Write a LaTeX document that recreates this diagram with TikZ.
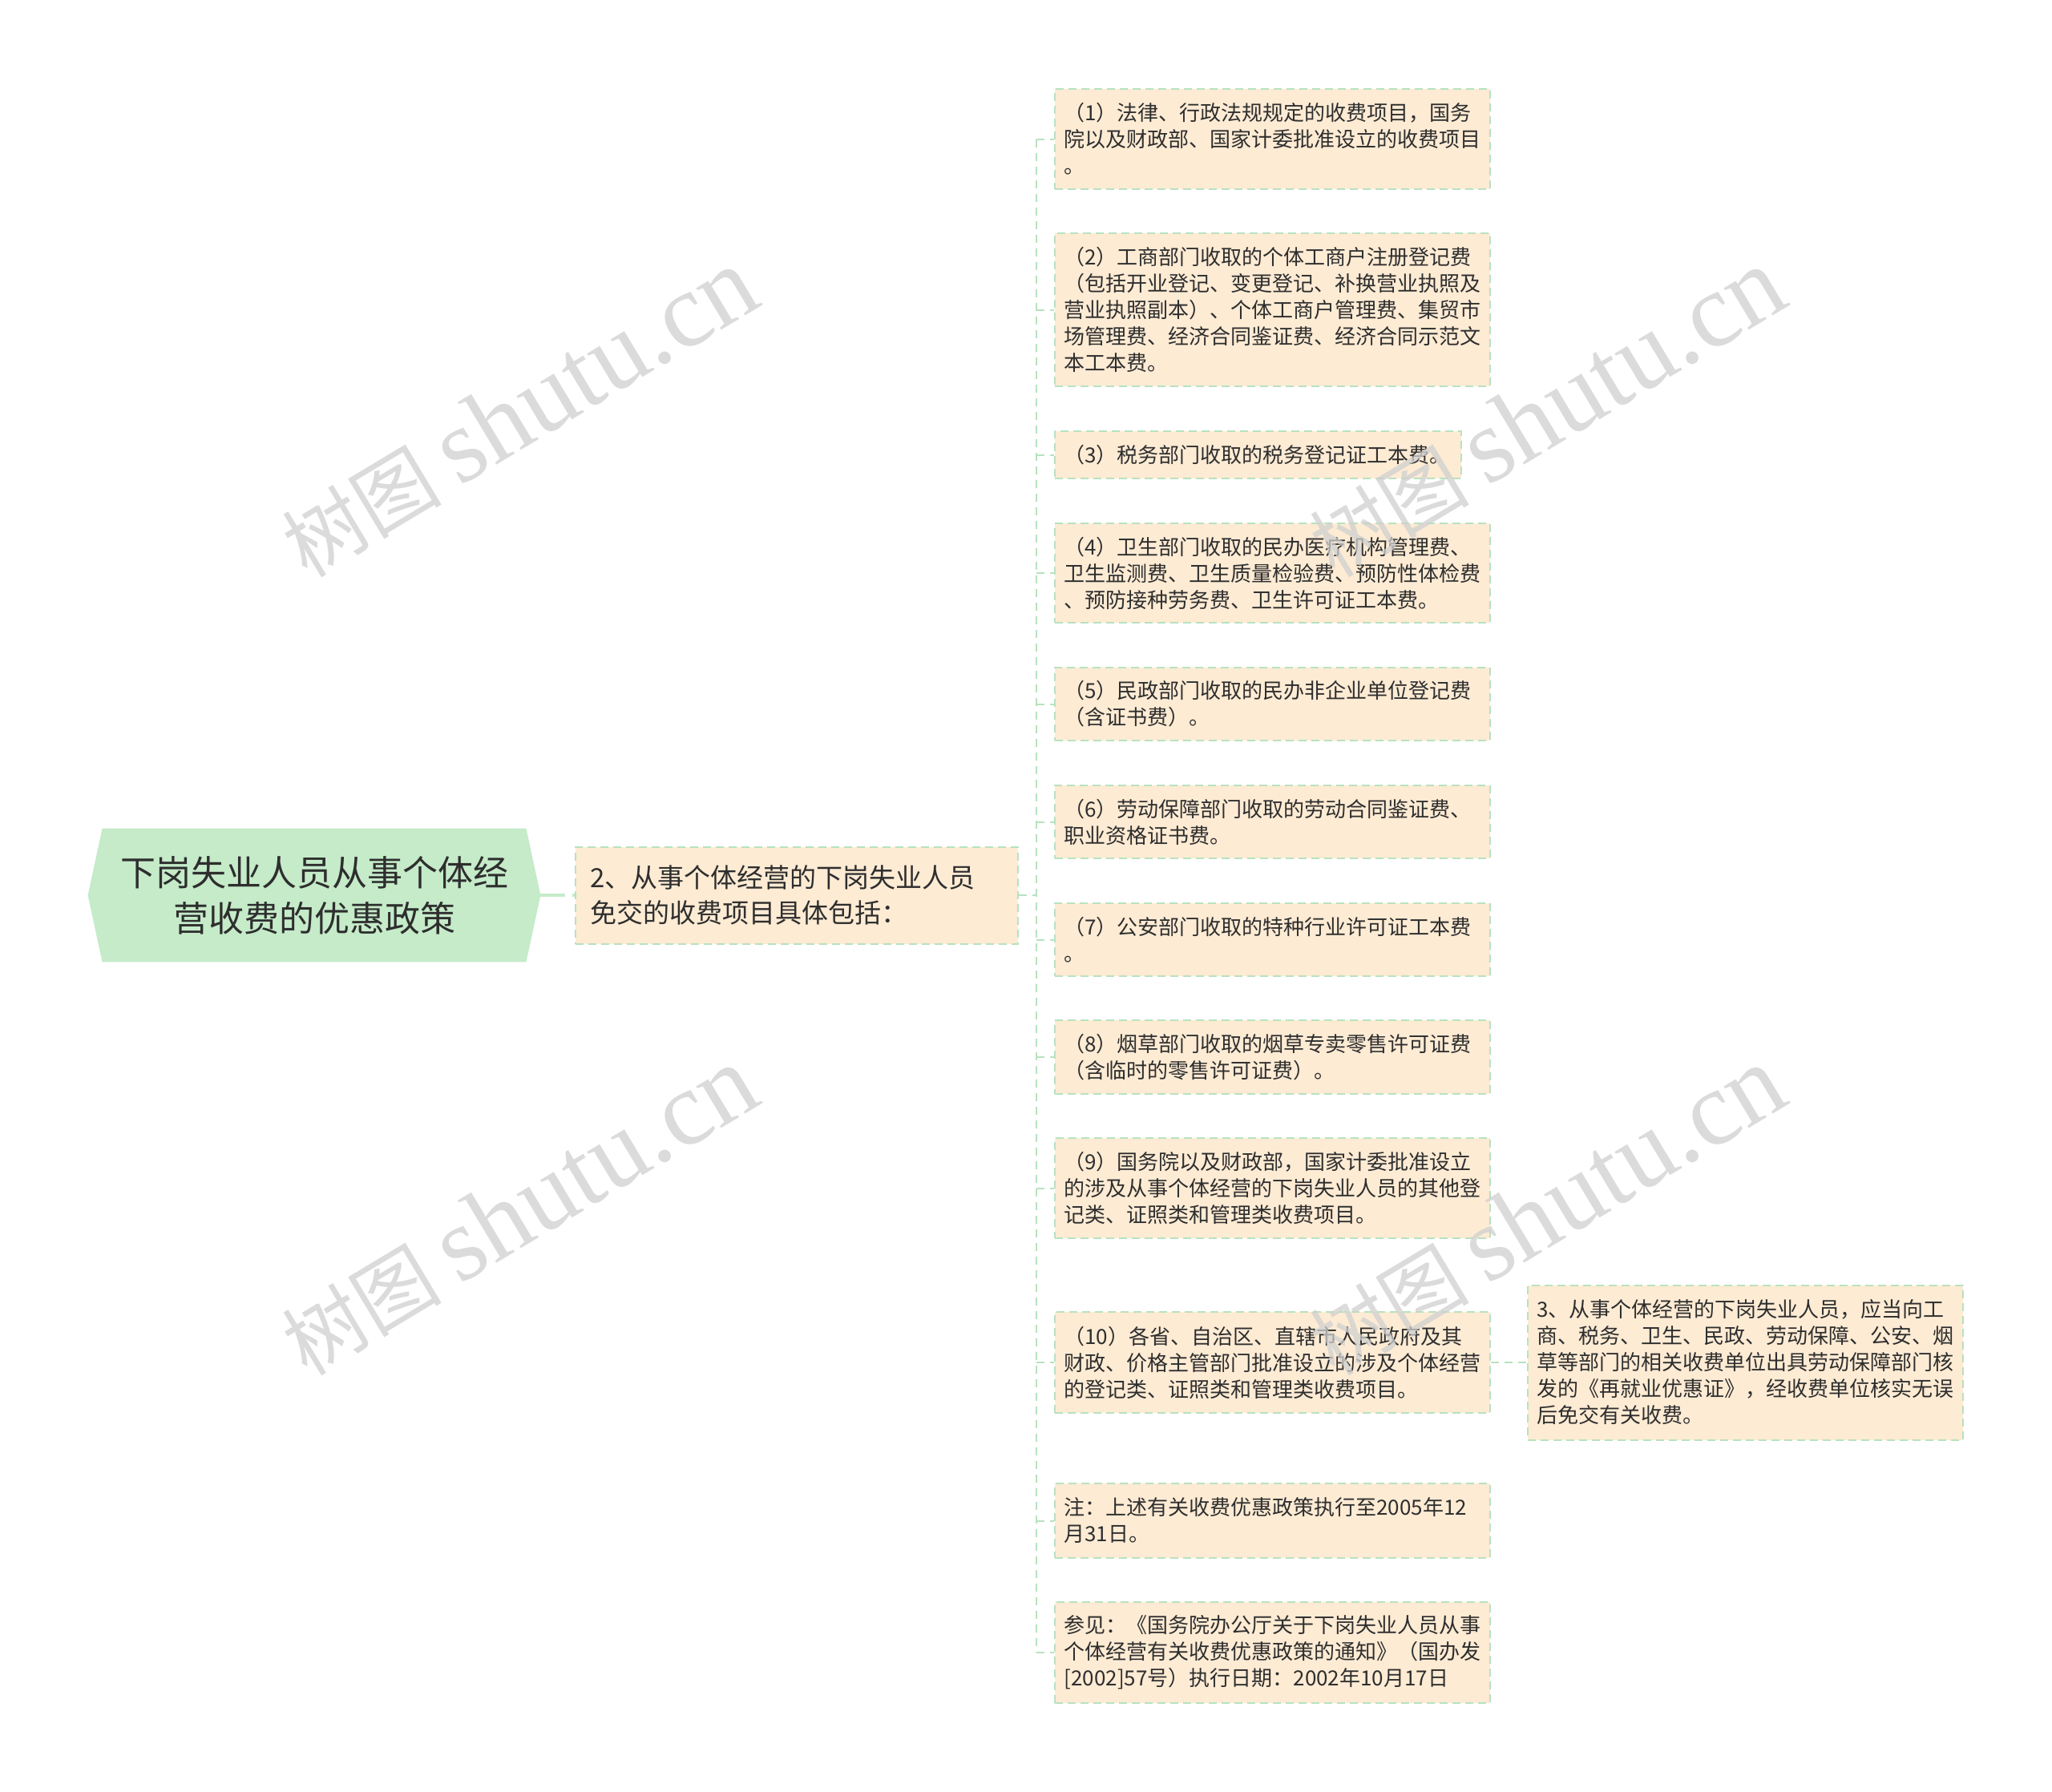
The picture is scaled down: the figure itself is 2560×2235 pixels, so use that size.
\documentclass[tikz,border=0pt]{standalone}
\usepackage{fontspec}
\setmainfont{Noto Sans CJK SC}
\newfontfamily\wmlatin{Liberation Serif}
\usetikzlibrary{backgrounds,calc}
\definecolor{rootfill}{HTML}{C5EBC9}
\definecolor{leaffill}{HTML}{FDEBD4}
\definecolor{edgegreen}{HTML}{B8E2BF}
\definecolor{txt}{HTML}{2E2E2E}
\definecolor{wm}{HTML}{CFCFCF}
\tikzset{
  leaf/.style={draw=edgegreen, line width=1pt, dash pattern=on 5pt off 3pt,
    fill=leaffill, text=txt, align=left, text width=260pt, inner xsep=5.75pt,
    inner ysep=0pt, font=\fontsize{13}{16.5}\selectfont},
  midbox/.style={draw=edgegreen, line width=1pt, dash pattern=on 5pt off 3pt,
    fill=leaffill, text=txt, align=left, text width=258pt, inner xsep=9pt,
    inner ysep=0pt, minimum height=60.5pt, font=\fontsize{16.5}{22}\selectfont},
  rootbox/.style={text=txt, align=center, minimum width=282pt, minimum height=83pt,
    inner sep=0pt, font=\fontsize{22}{28.5}\selectfont},
  conn/.style={draw=edgegreen, line width=1pt, dash pattern=on 5pt off 3.5pt},
  rootconn/.style={draw=rootfill, line width=2pt, dash pattern=on 15.5pt off 4.5pt},
  wmark/.style={text=wm, opacity=0.75, rotate=31, font=\fontsize{50}{50}\selectfont}
}
\newcommand\wmtext{树图 {\wmlatin\fontsize{66}{66}\selectfont shutu.cn}}
\begin{document}
\begin{tikzpicture}[x=0.5pt,y=-0.5pt]
\useasboundingbox (0,0) rectangle (2560,2235);

% root
\node[rootbox] (root) at (392,1117) {下岗失业人员从事个体经\\营收费的优惠政策};
\begin{scope}[on background layer]
\fill[white] (0,0) rectangle (2560,2235);
\fill[rootfill] (root.west) -- ($(root.north west)+(18,0)$) -- ($(root.north east)+(-18,0)$)
  -- (root.east) -- ($(root.south east)+(-18,0)$) -- ($(root.south west)+(18,0)$) -- cycle;
\end{scope}

% level 2
\node[midbox] (n2) at (994,1117) {2、从事个体经营的下岗失业人员\\免交的收费项目具体包括：};

% leaves
\node[leaf, minimum height=62.5pt] (L1) at (1587.5,173.5) {（1）法律、行政法规规定的收费项目，国务\\院以及财政部、国家计委批准设立的收费项目\\。};
\node[leaf, minimum height=95.5pt] (L2) at (1587.5,386.5) {（2）工商部门收取的个体工商户注册登记费\\（包括开业登记、变更登记、补换营业执照及\\营业执照副本）、个体工商户管理费、集贸市\\场管理费、经济合同鉴证费、经济合同示范文\\本工本费。};
\node[leaf, minimum height=29.5pt, text width=242pt] (L3) at (1569.5,567.5) {（3）税务部门收取的税务登记证工本费。};
\node[leaf, minimum height=62pt] (L4) at (1587.5,715) {（4）卫生部门收取的民办医疗机构管理费、\\卫生监测费、卫生质量检验费、预防性体检费\\、预防接种劳务费、卫生许可证工本费。};
\node[leaf, minimum height=45.5pt] (L5) at (1587.5,878.5) {（5）民政部门收取的民办非企业单位登记费\\（含证书费）。};
\node[leaf, minimum height=45.5pt] (L6) at (1587.5,1025.5) {（6）劳动保障部门收取的劳动合同鉴证费、\\职业资格证书费。};
\node[leaf, minimum height=45.5pt] (L7) at (1587.5,1172.5) {（7）公安部门收取的特种行业许可证工本费\\。};
\node[leaf, minimum height=46pt] (L8) at (1587.5,1319) {（8）烟草部门收取的烟草专卖零售许可证费\\（含临时的零售许可证费）。};
\node[leaf, minimum height=62.5pt] (L9) at (1587.5,1482.5) {（9）国务院以及财政部，国家计委批准设立\\的涉及从事个体经营的下岗失业人员的其他登\\记类、证照类和管理类收费项目。};
\node[leaf, minimum height=63pt] (L10) at (1587.5,1700) {（10）各省、自治区、直辖市人民政府及其\\财政、价格主管部门批准设立的涉及个体经营\\的登记类、证照类和管理类收费项目。};
\node[leaf, minimum height=46.5pt] (L11) at (1587.5,1897.5) {注：上述有关收费优惠政策执行至2005年12\\月31日。};
\node[leaf, minimum height=63pt] (L12) at (1587.5,2062) {参见：《国务院办公厅关于下岗失业人员从事\\个体经营有关收费优惠政策的通知》（国办发\\{[}2002{]}57号）执行日期：2002年10月17日};
\node[leaf, minimum height=96.5pt] (S) at (2177.5,1700) {3、从事个体经营的下岗失业人员，应当向工\\商、税务、卫生、民政、劳动保障、公安、烟\\草等部门的相关收费单位出具劳动保障部门核\\发的《再就业优惠证》，经收费单位核实无误\\后免交有关收费。};

% connectors
\coordinate (t) at (1293,1117);
\draw[rootconn] (root.east) -- (n2.west);
\draw[conn] (n2.east) -- (t);
\draw[conn] (t |- L1.west) -- (t |- L12.west);
\foreach \k in {L1,L2,L3,L4,L5,L6,L7,L8,L9,L10,L11,L12}{
  \draw[conn] (t |- \k.west) -- (\k.west);
}
\draw[conn] (L10.east) -- (S.west);

% watermarks
\node[wmark] (w1) at (647,515) {\wmtext};
\node[wmark] (w2) at (1929,515) {\wmtext};
\node[wmark] (w3) at (647,1511) {\wmtext};
\node[wmark] (w4) at (1929,1511) {\wmtext};
\end{tikzpicture}
\end{document}
